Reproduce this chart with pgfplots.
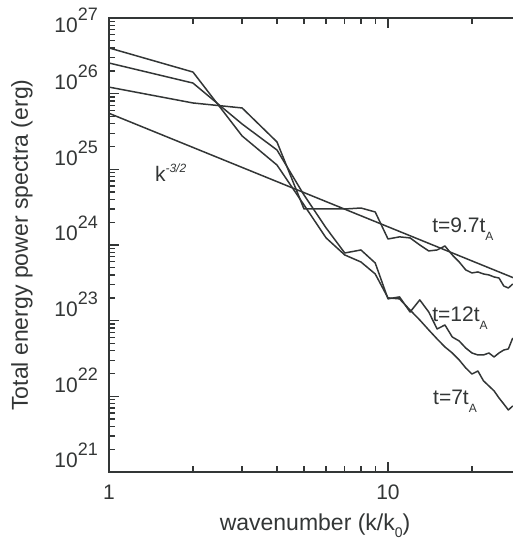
\documentclass[border=0pt]{standalone}
\usepackage{pgfplots}
\pgfplotsset{compat=1.18}
\usepackage{fontspec}
\setmainfont{Liberation Sans}
\definecolor{ink}{HTML}{333636}
\newcommand{\tenpow}[1]{10\raisebox{12pt}{\fontsize{18}{18}\selectfont #1}}
\newcommand{\tA}{t\raisebox{-8pt}{\fontsize{12}{12}\selectfont A}}

% total energy spectra E(k) at three times, k = k/k0
\pgfplotstableread{
k  E
1  4.02e26
2  1.93e26
3  2.76e25
4  1.14e25
5  3.38e24
6  1.24e24
7  7.38e23
8  5.96e23
9  4.14e23
10 2.00e23
11 1.94e23
12 1.38e23
13 1.02e23
14 7.53e22
15 5.73e22
16 4.49e22
17 3.74e22
18 3.02e22
19 2.37e22
20 1.97e22
21 2.16e22
22 1.60e22
23 1.37e22
24 1.18e22
25 9.50e21
26 7.92e21
27 6.60e21
28 7.45e21
}\tseven
\pgfplotstableread{
k  E
1  2.54e26
2  1.38e26
3  3.97e25
4  1.80e25
5  4.58e24
6  1.68e24
7  7.84e23
8  8.59e23
9  5.78e23
10 1.94e23
11 2.06e23
12 1.30e23
13 1.88e23
14 1.30e23
15 7.76e22
16 8.77e22
17 6.08e22
18 5.38e22
19 4.35e22
20 3.74e22
21 3.52e22
22 3.52e22
23 3.74e22
24 3.31e22
25 3.74e22
26 4.09e22
27 4.23e22
28 5.90e22
}\ttwelve
\pgfplotstableread{
k  E
1  1.22e26
2  7.53e25
3  6.47e25
4  2.30e25
5  2.99e24
6  2.99e24
7  2.99e24
8  3.08e24
9  2.73e24
10 1.20e24
11 1.28e24
12 1.24e24
13 1.00e24
14 8.34e23
15 8.59e23
16 9.70e23
17 7.38e23
18 5.96e23
19 4.68e23
20 4.27e23
21 4.40e23
22 4.14e23
23 4.02e23
24 3.78e23
25 3.66e23
26 2.87e23
27 2.70e23
28 3.05e23
}\tninesev
% reference slope k^{-3/2}
\pgfplotstableread{
k  E
1  5.5e25
30 3.35e23
}\kolm

\begin{document}
\begin{tikzpicture}
\begin{axis}[
  name=ax,
  xmode=log, ymode=log,
  scale only axis, width=412.1pt, height=454pt,
  xmin=1, xmax=30, ymin=1e21, ymax=1e27,
  xtick={1,10}, xticklabels={1,10},
  minor xtick={2,3,4,5,6,7,8,9,20,30},
  ytick={1e21,1e22,1e23,1e24,1e25,1e26,1e27},
  yticklabels={\tenpow{21},\tenpow{22},\tenpow{23},\tenpow{24},\tenpow{25},\tenpow{26},\raisebox{-19pt}{\tenpow{27}}},
  minor ytick={2e21,3e21,4e21,5e21,6e21,7e21,8e21,9e21,
               2e22,3e22,4e22,5e22,6e22,7e22,8e22,9e22,
               2e23,3e23,4e23,5e23,6e23,7e23,8e23,9e23,
               2e24,3e24,4e24,5e24,6e24,7e24,8e24,9e24,
               2e25,3e25,4e25,5e25,6e25,7e25,8e25,9e25,
               2e26,3e26,4e26,5e26,6e26,7e26,8e26,9e26},
  tick align=inside,
  xtick pos=both, ytick pos=left,
  major tick length=10pt, minor tick length=6pt,
  axis line style={ink, line width=1.5pt},
  tick style={ink, line width=1.5pt},
  minor tick style={ink, line width=1.3pt},
  /pgf/number format/assume math mode=true,
  tick label style={font=\fontsize{21}{25}\selectfont, text=ink, inner sep=0pt},
  yticklabel style={anchor=base east, xshift=-11pt, yshift=4pt},
  xticklabel style={anchor=base, yshift=-28pt},
  xlabel={wavenumber (k/k\raisebox{-7pt}{\fontsize{14}{14}\selectfont 0})},
  ylabel={Total energy power spectra (erg)},
  every axis x label/.style={at={(rel axis cs:0.5,-0.1278)}, anchor=base,
    font=\fontsize{23}{27}\selectfont, text=ink},
  every axis y label/.style={at={(rel axis cs:-0.1966,0.5)}, rotate=90, anchor=base,
    font=\fontsize{23}{27}\selectfont, text=ink},
  spec/.style={ink, line width=1.5pt, line join=round, mark=none},
]
\addplot[spec] table[x=k, y=E] {\tseven};
\addplot[spec] table[x=k, y=E] {\ttwelve};
\addplot[spec] table[x=k, y=E] {\tninesev};
\addplot[spec] table[x=k, y=E] {\kolm};

\node[anchor=base west, font=\fontsize{21}{25}\selectfont, text=ink, inner sep=0pt]
  at (axis cs:1.46,6.8e24) {k\raisebox{9pt}{\fontsize{12}{12}\selectfont\itshape -3/2}};
\node[anchor=base west, font=\fontsize{21}{25}\selectfont, text=ink, inner sep=0pt]
  at (axis cs:14.4,1.44e24) {t=9.7\tA};
\node[anchor=base west, font=\fontsize{21}{25}\selectfont, text=ink, inner sep=0pt]
  at (axis cs:14.4,9.6e22) {t=12\tA};
\node[anchor=base west, font=\fontsize{21}{25}\selectfont, text=ink, inner sep=0pt]
  at (axis cs:14.5,7.7e21) {t=7\tA};
\end{axis}
\pgfresetboundingbox
\useasboundingbox ([xshift=-109pt,yshift=-68pt]ax.south west) rectangle ([xshift=404pt,yshift=18pt]ax.north west);
\end{tikzpicture}
\end{document}
